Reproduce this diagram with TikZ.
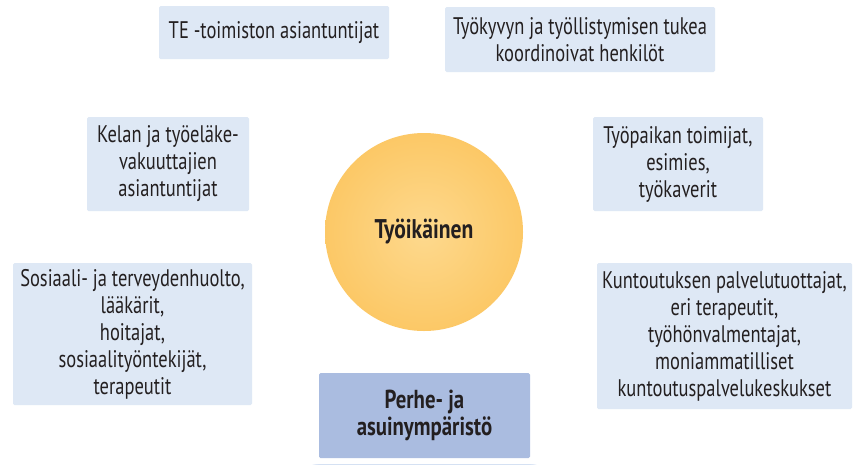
\documentclass[tikz,border=0pt]{standalone}
\usepackage{fontspec}
\setmainfont[FakeStretch=0.77,BoldFeatures={FakeStretch=0.8}]{PT Sans}
\usetikzlibrary{positioning,backgrounds}
\definecolor{boxblue}{RGB}{222,232,245}
\definecolor{famblue}{RGB}{170,188,224}
\definecolor{sunlight}{RGB}{253,217,142}
\definecolor{sunedge}{RGB}{252,200,102}
\definecolor{haloblue}{RGB}{140,172,222}
\definecolor{inkdark}{RGB}{35,31,32}
\tikzset{
  actor/.style={fill=boxblue,rounded corners=1.5pt,align=center,text=inkdark,inner sep=0pt,font=\fontsize{24}{27}\selectfont},
  family/.style={actor,fill=famblue,font=\bfseries\fontsize{26}{27}\selectfont},
  person/.style={circle,minimum size=198pt,inner sep=0pt,inner color=sunlight,outer color=sunedge,text=inkdark,font=\bfseries\fontsize{27}{27}\selectfont},
  halo/.style={fill=haloblue,opacity=0.065},
  every picture/.style={x=1pt,y=-1pt}
}

\begin{document}
\begin{tikzpicture}
  \fill[white] (0,0) rectangle (856,464); \useasboundingbox (0,0) rectangle (856,464);
  % worker in the middle
  \node[person] (me) at (424,232) {Työikäinen};
  % people around
  \node[actor,minimum width=230pt,minimum height=53pt] (te) at (274,32.5) {TE -toimiston asiantuntijat};
  \node[actor,minimum width=270pt,minimum height=65pt] (coord) at (580,39.5) {Työkyvyn ja työllistymisen tukea\\koordinoivat henkilöt};
  \node[actor,minimum width=162pt,minimum height=94pt] (kela) at (168,164) {Kelan ja työeläke-\\vakuuttajien\\asiantuntijat};
  \node[actor,minimum width=170pt,minimum height=94pt] (work) at (678,164) {Työpaikan toimijat,\\esimies,\\työkaverit};
  \node[actor,minimum width=239pt,minimum height=142pt] (health) at (132.5,334) {Sosiaali- ja terveydenhuolto,\\lääkärit,\\hoitajat,\\sosiaalityöntekijät,\\terapeutit};
  \node[actor,minimum width=255pt,minimum height=146pt] (rehab) at (724.5,336) {Kuntoutuksen palvelutuottajat,\\eri terapeutit,\\työhönvalmentajat,\\moniammatilliset\\kuntoutuspalvelukeskukset};
  \node[family,minimum width=211pt,minimum height=85pt] (home) at (424.5,415.5) {Perhe- ja\\asuinympäristö};
  % soft shadows
  \begin{scope}[on background layer]
    \foreach \i in {1,...,12} \fill[halo] ([yshift=-3pt]me.center) circle [radius={99pt+\i*1.6pt}];
    \foreach \n in {te,coord,kela,work,health,rehab,home}
      \foreach \i in {1,...,10}
        \fill[halo,rounded corners=\i pt] ([xshift=-\i*0.7pt,yshift={\i*0.3pt-2pt}]\n.north west) rectangle ([xshift=\i*0.7pt,yshift={-\i*1.1pt-2pt}]\n.south east);
  \end{scope}
\end{tikzpicture}
\end{document}
